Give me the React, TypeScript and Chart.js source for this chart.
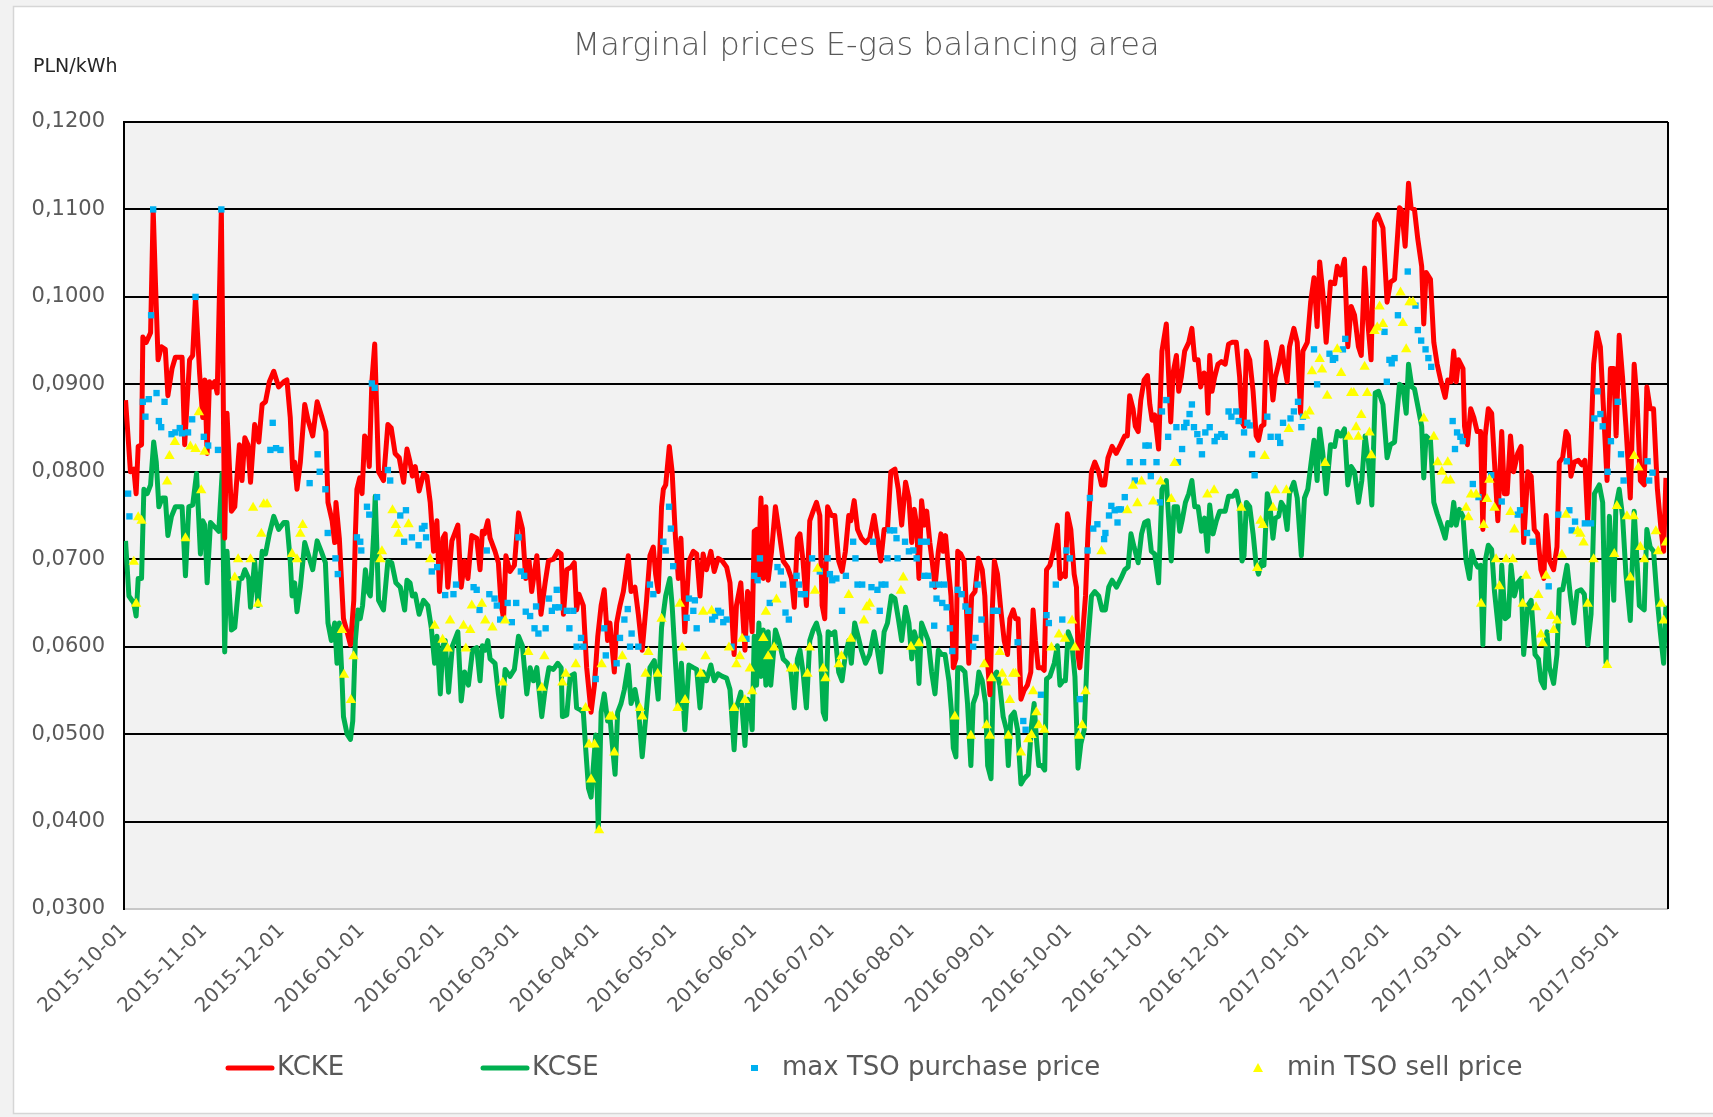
import { useEffect, useRef } from 'react';
import { Chart, registerables } from 'chart.js';

Chart.register(...registerables);

// ---------- data ----------
const startDate = '2015-10-01';
const tickLabels = [
  '2015-10-01', '2015-11-01', '2015-12-01', '2016-01-01', '2016-02-01', '2016-03-01', '2016-04-01',
  '2016-05-01', '2016-06-01', '2016-07-01', '2016-08-01', '2016-09-01', '2016-10-01', '2016-11-01',
  '2016-12-01', '2017-01-01', '2017-02-01', '2017-03-01', '2017-04-01', '2017-05-01',
];
const lastDay = 598; // days after startDate shown on the axis (about 2017-05-21)
const yMin = 0.03;
const yMax = 0.12;
const yStep = 0.01;
const titleText = 'Marginal prices E-gas balancing area';
const unitText = 'PLN/kWh';
const seriesNames = ['KCKE', 'KCSE', 'max TSO purchase price', 'min TSO sell price'];

// [day after startDate, PLN/kWh]
const kcke: [number, number][] = [
  [0.6, 0.0882], [2.5, 0.08], [3.8, 0.0803], [4.7, 0.0775], [5.5, 0.0829], [6.8, 0.0831], [7.3, 0.0954], [8.6, 0.0948],
  [10.3, 0.0959], [11.3, 0.11], [12.2, 0.1015], [13.2, 0.0928], [14.5, 0.0943], [16, 0.094], [17, 0.0887], [18.6, 0.0918],
  [19.9, 0.0931], [22.5, 0.0931], [23.5, 0.0831], [24.4, 0.0877], [25.4, 0.0928], [26.6, 0.0933], [27.7, 0.1], [29.3, 0.0912],
  [30.5, 0.0862], [31.3, 0.0905], [32.2, 0.0821], [33.1, 0.0903], [34.1, 0.0897], [35.1, 0.0903], [36.1, 0.089], [37.7, 0.11],
  [39, 0.0724], [39.9, 0.0867], [41.6, 0.0755], [42.9, 0.076], [44.7, 0.0831], [45.7, 0.079], [46.8, 0.0839], [48, 0.0831],
  [49, 0.0788], [50.6, 0.0854], [52.2, 0.0834], [53.5, 0.0877], [54.8, 0.088], [56.3, 0.0903], [58, 0.0915], [59.9, 0.0897],
  [61.9, 0.0903], [63.1, 0.0905], [64.4, 0.0862], [65.3, 0.0803], [66.1, 0.0811], [67, 0.078], [68.3, 0.0811], [70, 0.0877],
  [71.3, 0.0859], [73.1, 0.0841], [74.8, 0.088], [76.7, 0.0862], [78.2, 0.0846], [79, 0.0765], [80.6, 0.0744], [81.6, 0.0719],
  [82.1, 0.0765], [83.4, 0.0724], [85, 0.0632], [86.4, 0.0617], [87.7, 0.0602], [89, 0.0653], [89.6, 0.0727], [90.2, 0.078],
  [91.3, 0.0793], [92.2, 0.0775], [93.2, 0.0841], [94.1, 0.0836], [95, 0.0806], [96, 0.0903], [97.1, 0.0946],
  [98.6, 0.08], [100.5, 0.079], [102.2, 0.0854], [103.5, 0.085], [105, 0.0821], [106.6, 0.0816], [108.3, 0.0788], [109.6, 0.0826],
  [110.8, 0.0811], [111.7, 0.0795], [112.8, 0.0806], [114.3, 0.0778], [116, 0.0798], [117.3, 0.0795], [118.6, 0.0765], [119.9, 0.0709],
  [121.2, 0.0744], [122.2, 0.0663], [123.5, 0.0724], [124.4, 0.0729], [125.4, 0.0668], [127, 0.0721], [129.3, 0.0739], [130.6, 0.0668],
  [131.9, 0.0698], [133.2, 0.0678], [134.7, 0.0727], [136.6, 0.0724], [137.9, 0.0688], [138.8, 0.0732], [139.6, 0.0729], [140.9, 0.0744],
  [141.8, 0.0724], [143.7, 0.0709], [145, 0.0696], [146, 0.065], [147, 0.0632], [147.9, 0.0704], [149.5, 0.0686], [151.2, 0.0693],
  [152.8, 0.0753], [154.3, 0.0735], [155.6, 0.0678], [156.9, 0.0698], [157.9, 0.0663], [159.9, 0.0704], [161.5, 0.0637], [163.1, 0.0673],
  [164.4, 0.0698], [166.3, 0.07], [168, 0.0709], [169.3, 0.0706], [170.2, 0.0637], [171.5, 0.0688], [173.2, 0.0691], [174.4, 0.0696],
  [175.3, 0.0642], [176.2, 0.066], [177.9, 0.0647], [179.2, 0.0576], [180.9, 0.0525], [182.2, 0.0556], [183.5, 0.0612], [184.8, 0.0647],
  [186, 0.0665], [187.3, 0.0607], [188.2, 0.0627], [189.9, 0.0571], [190.8, 0.0627], [192.1, 0.0647], [193.4, 0.0663], [195.3, 0.0704],
  [196.4, 0.0663],
  [197.9, 0.0668], [199.2, 0.0637], [200.7, 0.0596], [202.4, 0.0653], [203.7, 0.0704], [205, 0.0714], [205.9, 0.0683], [206.9, 0.0663],
  [208.2, 0.076], [208.9, 0.078], [209.8, 0.0785], [211.2, 0.0829], [212.3, 0.08], [213.6, 0.0724], [214.7, 0.0678], [215.7, 0.0724],
  [217.2, 0.0617], [218.8, 0.0698], [220.5, 0.0709], [221.8, 0.0706], [223.1, 0.0658], [224.3, 0.0706], [225.6, 0.0688], [227.3, 0.0709],
  [228.6, 0.0686], [230.1, 0.0701], [231.7, 0.0698], [233.4, 0.0691], [234.7, 0.0673], [236.3, 0.0591], [237.2, 0.0647], [238.9, 0.0673],
  [240.5, 0.0596], [241.5, 0.0663], [242.4, 0.0658], [243.3, 0.0617], [244.1, 0.0732], [245, 0.0734], [245.6, 0.0678], [246.7, 0.077],
  [247.6, 0.0678], [248.6, 0.076], [249.5, 0.0676], [250.8, 0.0709], [252.3, 0.076], [253.6, 0.0734], [255.3, 0.0698], [257, 0.0691],
  [258.5, 0.0678], [259.6, 0.0645], [260.8, 0.0724], [261.8, 0.0729], [263, 0.0698], [264.3, 0.0647], [265.6, 0.0744], [266.9, 0.0755],
  [268.2, 0.0765], [269.5, 0.075], [270.4, 0.0647], [271.4, 0.0632], [272.5, 0.076], [274, 0.075], [275.3, 0.075], [276.8, 0.0698],
  [278.1, 0.0686], [279.4, 0.0709], [280.7, 0.075], [281.5, 0.0744], [282.8, 0.0767], [284.1, 0.0734], [285.6, 0.0724], [287.2, 0.0719],
  [288.8, 0.0724], [290.5, 0.075], [291.8, 0.0724], [293.1, 0.0698], [294.4, 0.0734], [295.7, 0.0734], [297, 0.08],
  [298.6, 0.0803], [299.9, 0.078], [301.2, 0.0739], [302.7, 0.0788], [304, 0.077], [305.1, 0.0719], [306.1, 0.0757], [307, 0.0739],
  [307.9, 0.0678], [308.9, 0.0767], [310, 0.0739], [310.9, 0.0755], [312.1, 0.0719], [313, 0.0698], [314.1, 0.0668], [315.4, 0.0709],
  [316.4, 0.0729], [317.3, 0.0709], [318.2, 0.0727], [319.2, 0.0693], [320.3, 0.0658], [321.2, 0.0576], [322.2, 0.0586], [322.9, 0.0709],
  [324.1, 0.0706], [325.4, 0.0698], [326.3, 0.0642], [327.2, 0.0581], [328.3, 0.0658], [329.6, 0.0663], [330.9, 0.0701], [332.4, 0.0688],
  [333.4, 0.0658], [334.5, 0.0581], [335.4, 0.0545], [336.3, 0.0642], [337.1, 0.0698], [338.3, 0.0683], [339.6, 0.0642], [340.9, 0.0607],
  [342.2, 0.0591], [343.1, 0.0632], [344.4, 0.0642], [345.3, 0.0632], [346.3, 0.0632], [347.4, 0.054], [348.6, 0.055], [349.9, 0.0556],
  [351.2, 0.0571], [352.1, 0.0642], [353, 0.0607], [354.1, 0.0576], [355.4, 0.0576], [356.4, 0.0573], [357.3, 0.0688], [358.6, 0.0693],
  [359.9, 0.0709], [361.5, 0.0739], [362.5, 0.0678], [363.7, 0.0683], [364.6, 0.068], [365.4, 0.0752], [366.7, 0.0734], [368, 0.0683],
  [368.9, 0.0668], [369.5, 0.0591], [370.2, 0.0576], [371.1, 0.0607], [372.4, 0.0658], [373.4, 0.0734], [374.7, 0.08], [376, 0.0811],
  [377.5, 0.08], [378.6, 0.0785], [379.8, 0.0785], [381.1, 0.0816], [382.7, 0.0829], [384.3, 0.0821], [386, 0.0831], [387.6, 0.0841],
  [388.6, 0.0841], [389.5, 0.0887], [390.8, 0.0872], [391.7, 0.0852], [392.8, 0.0846], [393.8, 0.0882], [395.1, 0.0905], [396.4, 0.091],
  [397.3, 0.0877], [398.2, 0.0859],
  [399.2, 0.0865], [400.7, 0.0826], [402, 0.0938], [403.7, 0.0969], [405.4, 0.0857], [406.3, 0.0913], [407.6, 0.0933], [408.5, 0.0892],
  [409.5, 0.0908], [410.8, 0.0938], [412.4, 0.0948], [413.6, 0.0964], [414.7, 0.0928], [416, 0.0928], [417, 0.0897], [418.3, 0.0913],
  [419.2, 0.091], [419.8, 0.0867], [420.5, 0.0933], [421.4, 0.0892], [422.4, 0.0908], [423.7, 0.0923], [425, 0.0926], [426.5, 0.0923],
  [427.8, 0.0946], [429.1, 0.0948], [430.8, 0.0948], [432.1, 0.0908], [433, 0.0857], [433.8, 0.0852], [434.7, 0.0938], [436, 0.0928],
  [437.3, 0.0892], [438.5, 0.0841], [439.4, 0.0836], [440.5, 0.0852], [441.5, 0.0854], [442.4, 0.0948], [443.7, 0.0928], [445, 0.0882],
  [445.9, 0.0908], [447.2, 0.0923], [448.5, 0.0943], [449.3, 0.0923], [450.5, 0.0903], [451.4, 0.0943], [453.1, 0.0964], [454.4, 0.0948],
  [455.7, 0.0867], [456.6, 0.0938], [458.3, 0.0948], [459.6, 0.0994], [460.9, 0.1022], [462.1, 0.0966], [463.1, 0.104], [464.3, 0.1005],
  [465.6, 0.0948], [467.3, 0.1017], [468.9, 0.1015], [469.9, 0.1035], [471.2, 0.1025], [472.7, 0.1043], [474, 0.0943], [475.3, 0.0989],
  [476.6, 0.0979], [478.1, 0.0943], [479.2, 0.0933], [480.5, 0.1033], [481.8, 0.0969], [483, 0.0928], [484.3, 0.1086], [485.6, 0.1094],
  [487.6, 0.1079], [489.2, 0.0994], [490.5, 0.1017], [492.1, 0.102], [494, 0.1102], [494.9, 0.1099], [496.2, 0.1058], [497.5, 0.113],
  [498.5, 0.1102],
  [499.8, 0.11], [501.1, 0.1066], [502.6, 0.1035], [503.4, 0.0969], [504.3, 0.1028], [506, 0.102], [507.3, 0.0948], [508.6, 0.0923],
  [510.1, 0.0903], [511.7, 0.0885], [512.7, 0.0905], [514, 0.0903], [515, 0.0938], [516, 0.0903], [516.9, 0.0928], [518.6, 0.0918],
  [519.2, 0.0852], [520.3, 0.0831], [521.6, 0.0872], [522.8, 0.0862], [524.1, 0.0846], [525.4, 0.0846], [526.3, 0.0734], [527.2, 0.0841],
  [528.4, 0.0872], [529.7, 0.0867], [530.8, 0.0811], [532.1, 0.0744], [533.6, 0.0846], [534.6, 0.0775], [535.7, 0.0775], [537, 0.0841],
  [538.2, 0.08], [539.8, 0.0821], [541.1, 0.0829], [542.1, 0.0719], [543.7, 0.08], [545, 0.0795], [546.2, 0.0734], [547.5, 0.0729],
  [548.8, 0.0688], [549.9, 0.0678], [550.8, 0.075], [552.1, 0.0698], [553.7, 0.0688], [555, 0.0714], [555.9, 0.0811], [557.2, 0.0816],
  [558.5, 0.0846], [559.4, 0.0841], [560.4, 0.0795], [561.7, 0.0811], [563.3, 0.0813], [564.6, 0.0808], [565.8, 0.0813], [566.9, 0.0742],
  [567.9, 0.0811], [569.2, 0.0923], [570.5, 0.0959], [571.8, 0.0943], [573.1, 0.0867], [574.4, 0.079], [575.7, 0.0918], [577, 0.0918],
  [577.9, 0.0841], [579.1, 0.0956], [580.4, 0.0908], [581.7, 0.0852], [583.4, 0.077], [584.9, 0.0923], [586, 0.0882], [587.3, 0.079],
  [588.8, 0.0785], [589.8, 0.0897], [591.1, 0.0872], [592.4, 0.0872], [593.9, 0.078], [595.3, 0.0734], [596.3, 0.0709], [597.2, 0.0793],
];

const kcse: [number, number][] = [
  [0.6, 0.0721], [1.9, 0.0658], [3.8, 0.065], [4.7, 0.0635], [5.5, 0.0678], [6.8, 0.0678], [7.7, 0.078], [9, 0.0775],
  [10.3, 0.0785], [11.5, 0.0834], [12.5, 0.0811], [13.5, 0.076], [14.8, 0.077], [16, 0.077], [17, 0.0727], [18.4, 0.0749],
  [19.9, 0.076], [22.5, 0.076], [23.8, 0.0681], [25.1, 0.076], [26.6, 0.0762], [28.1, 0.0798], [29.6, 0.0706], [30.5, 0.0744],
  [31.3, 0.0739], [32.2, 0.0673], [33.5, 0.0742], [35.1, 0.0737], [36.7, 0.0732], [38, 0.0798], [39, 0.0594], [39.9, 0.0709],
  [41.6, 0.0619], [42.9, 0.0622], [44.7, 0.0678], [45.7, 0.0678], [46.8, 0.0688], [48.3, 0.0678], [49, 0.0645], [50.6, 0.0698],
  [51.9, 0.0647], [53.5, 0.0709], [54.8, 0.0706], [56.3, 0.0729], [58, 0.0749], [59.9, 0.0734], [61.9, 0.0742], [63.1, 0.0742],
  [64.4, 0.0698], [65.1, 0.0658], [66.1, 0.0673], [67, 0.064], [68.3, 0.0668], [70, 0.0719], [71.5, 0.0704], [73.1, 0.0688],
  [74.8, 0.0721], [76.4, 0.0709], [78, 0.0696], [79, 0.0627], [80.3, 0.0607], [81.6, 0.0627], [82.5, 0.0581], [83.4, 0.0627],
  [84.4, 0.0566], [85, 0.052], [86.4, 0.05], [87.7, 0.0494], [88.6, 0.0515], [89.6, 0.0607], [90.6, 0.0642], [91.5, 0.0632],
  [92.4, 0.0647], [93.5, 0.0688], [94.5, 0.0663], [95.4, 0.0658], [96.7, 0.0729], [97.3, 0.0772],
  [98.6, 0.0653], [100.5, 0.0642], [102.2, 0.0698], [103.7, 0.0696], [105.3, 0.0673], [107, 0.0668], [108.7, 0.0642], [109.6, 0.0676],
  [110.8, 0.0673], [111.7, 0.0658], [112.8, 0.066], [114.3, 0.0637], [116, 0.0653], [117.7, 0.0647], [119, 0.0622], [120.3, 0.0581],
  [121.2, 0.0612], [122.5, 0.0546], [123.5, 0.0601], [124.4, 0.0607], [125.7, 0.0548], [127.2, 0.0601], [129.3, 0.0617], [130.6, 0.0538],
  [131.9, 0.0571], [133.4, 0.0556], [135, 0.0596], [136.6, 0.0599], [137.9, 0.0561], [138.8, 0.0601], [139.9, 0.0596], [140.9, 0.0607],
  [141.8, 0.0586], [143.7, 0.0581], [145, 0.0546], [146.3, 0.052], [147.6, 0.0574], [149.5, 0.0566], [151.2, 0.0574], [152.8, 0.0612],
  [154.3, 0.0601], [156, 0.0546], [157.3, 0.0576], [158.6, 0.0561], [159.9, 0.0576], [161.8, 0.052], [163.1, 0.0551], [164.6, 0.0576],
  [166.3, 0.0574], [168, 0.0581], [169.3, 0.0576], [169.8, 0.052], [171.5, 0.0522], [172.8, 0.0566], [174.4, 0.0569], [175.3, 0.053],
  [176.6, 0.0528], [177.9, 0.0525], [178.8, 0.0484], [179.9, 0.0438], [180.9, 0.0428], [181.8, 0.0464], [182.7, 0.0499], [183.7, 0.039],
  [184.8, 0.0525], [186, 0.0546], [187.3, 0.0515], [188.2, 0.052], [189.1, 0.0489], [190.2, 0.0454], [191.2, 0.0525], [192.5, 0.0535],
  [193.8, 0.0551], [195.3, 0.0579], [196.4, 0.0535],
  [197.9, 0.0551], [199.2, 0.053], [200.7, 0.0474], [202.4, 0.053], [203.7, 0.0576], [205.4, 0.0584], [206.9, 0.054], [208.2, 0.0622],
  [209.8, 0.0658], [211.4, 0.0678], [212.3, 0.0647], [213.6, 0.0581], [214.7, 0.053], [215.9, 0.0581], [217.2, 0.0505], [218.8, 0.0579],
  [220.5, 0.0576], [221.8, 0.0574], [223.1, 0.053], [224.3, 0.0571], [225.6, 0.0561], [227.3, 0.0579], [228.6, 0.0561], [230.1, 0.0569],
  [231.7, 0.0566], [233.4, 0.0564], [234.7, 0.0551], [236.3, 0.0482], [237.2, 0.053], [238.9, 0.0548], [240.5, 0.0487], [241.5, 0.054],
  [242.4, 0.0535], [243.3, 0.0505], [244.1, 0.0612], [245, 0.0556], [245.9, 0.0627], [246.7, 0.0566], [247.6, 0.0619], [248.6, 0.0556],
  [249.5, 0.0617], [250.5, 0.0556], [252.3, 0.0619], [253.6, 0.0607], [255.3, 0.0586], [257, 0.0581], [258.3, 0.0571], [259.6, 0.053],
  [260.8, 0.0586], [261.8, 0.0596], [263, 0.0571], [264.3, 0.053], [265.6, 0.0607], [266.9, 0.0619], [268.2, 0.0627], [269.5, 0.0612],
  [270.8, 0.0525], [271.7, 0.0517], [272.7, 0.0617], [274, 0.0614], [275.3, 0.0617], [276.8, 0.0571], [278.1, 0.0561], [279.4, 0.0591],
  [280.7, 0.0607], [281.7, 0.0581], [283, 0.0627], [284.3, 0.0612], [285.6, 0.0596], [287.2, 0.0581], [288.8, 0.0591], [290.5, 0.0617],
  [291.8, 0.0596], [293.1, 0.0571], [294.4, 0.0617], [295.7, 0.0627], [297.2, 0.0658],
  [298.6, 0.0655], [299.9, 0.0632], [301.2, 0.0607], [302.7, 0.0645], [304, 0.0627], [305.1, 0.0586], [306.1, 0.0617], [307, 0.0607],
  [307.9, 0.0558], [308.9, 0.0627], [310.2, 0.0617], [311.5, 0.0607], [312.8, 0.0571], [314.1, 0.0546], [315.4, 0.0596], [316.7, 0.0591],
  [318, 0.0591], [319.5, 0.0561], [320.5, 0.0525], [321.2, 0.0484], [322.2, 0.0474], [322.9, 0.0576], [324.1, 0.0576], [325.7, 0.0571],
  [326.7, 0.0535], [328, 0.0464], [328.9, 0.0535], [330.2, 0.0546], [331.1, 0.0571], [332.4, 0.0561], [333.7, 0.0535], [334.5, 0.0464],
  [335.8, 0.0449], [336.7, 0.0566], [338, 0.0571], [339.2, 0.0556], [340.5, 0.052], [341.8, 0.0505], [342.5, 0.0464], [343.5, 0.052],
  [344.8, 0.0525], [346.1, 0.0505], [347.4, 0.0443], [348.6, 0.0449], [350.2, 0.0454], [351.5, 0.051], [352.5, 0.0535], [353.4, 0.0494],
  [354.3, 0.0464], [355.4, 0.0464], [356.6, 0.0459], [357.3, 0.0563], [358.6, 0.0566], [360.3, 0.0581], [361.5, 0.0601], [362.5, 0.0556],
  [363.7, 0.0561], [364.6, 0.0561], [365.7, 0.0617], [367, 0.0607], [368.3, 0.0566], [368.9, 0.0515], [369.5, 0.0461], [370.6, 0.0489],
  [371.9, 0.0505], [373.2, 0.0601], [374.7, 0.0658], [376, 0.0663], [377.5, 0.0658], [378.8, 0.0642], [380.1, 0.0642], [381.4, 0.0668],
  [382.7, 0.0676], [384.4, 0.0668], [386.1, 0.0678], [387.6, 0.0688], [388.9, 0.0691], [390, 0.0729], [391.2, 0.0714], [392.8, 0.0696],
  [394.1, 0.0729], [395.3, 0.0742], [396.6, 0.0744], [397.9, 0.0709],
  [399.2, 0.0706], [400.7, 0.0673], [402, 0.078], [403.7, 0.079], [405.6, 0.0698], [406.7, 0.076], [408, 0.076], [408.9, 0.0732],
  [409.8, 0.0744], [411.1, 0.0765], [412.4, 0.0775], [413.6, 0.079], [414.7, 0.076], [416, 0.076], [417.3, 0.0732], [418.5, 0.0747],
  [419.6, 0.0709], [420.5, 0.0762], [421.8, 0.0729], [423.1, 0.0744], [424.4, 0.0755], [426.5, 0.0755], [427.8, 0.0772], [429.5, 0.0772],
  [430.8, 0.0778], [432.1, 0.076], [433, 0.0698], [433.8, 0.0704], [434.7, 0.0765], [436, 0.076], [437.3, 0.0729], [438.5, 0.0693],
  [439.4, 0.0683], [440.7, 0.0698], [441.5, 0.0693], [442.8, 0.0775], [443.7, 0.0765], [445, 0.0724], [445.9, 0.0747], [447.2, 0.0749],
  [448.2, 0.0765], [449.3, 0.076], [450.5, 0.0734], [451.4, 0.0775], [453.1, 0.0788], [454.4, 0.077], [456, 0.0704], [457.2, 0.077],
  [458.5, 0.078], [459.8, 0.0811], [460.9, 0.0836], [462.1, 0.079], [463.1, 0.0849], [464.3, 0.0821], [465.6, 0.0775], [467.3, 0.0831],
  [468.9, 0.0829], [469.9, 0.0846], [471.2, 0.0841], [472.7, 0.0849], [474, 0.0785], [475.3, 0.0806], [476.6, 0.08], [478.1, 0.0765],
  [479.4, 0.079], [480.7, 0.0841], [482, 0.0811], [483.3, 0.0762], [484.6, 0.089], [485.9, 0.0892], [487.6, 0.0877], [489.2, 0.0816],
  [490.5, 0.0831], [492.1, 0.0834], [494, 0.09], [495.3, 0.0897], [496.6, 0.0867], [497.5, 0.0923], [498.8, 0.0897],
  [499.8, 0.0895], [501.3, 0.0872], [502.6, 0.0852], [503.4, 0.0793], [504.3, 0.0841], [506, 0.0836], [507.3, 0.0765], [508.6, 0.0752],
  [510.1, 0.0739], [511.7, 0.0724], [512.7, 0.0742], [514, 0.0739], [515, 0.0765], [516, 0.0739], [517.2, 0.0757], [518.6, 0.0749],
  [519.8, 0.0698], [521.1, 0.0678], [522, 0.0709], [523, 0.0698], [524.3, 0.0691], [525.4, 0.0693], [526.3, 0.0602], [527.2, 0.0698],
  [528.4, 0.0716], [529.7, 0.0711], [530.8, 0.0663], [532.7, 0.0609], [533.6, 0.0693], [534.9, 0.0632], [536.2, 0.0635], [537.2, 0.0693],
  [538.5, 0.0658], [539.8, 0.0673], [541.1, 0.0678], [542.1, 0.0591], [543.7, 0.0647], [545, 0.0653], [546.5, 0.0591], [547.8, 0.0586],
  [548.8, 0.0561], [550.1, 0.0553], [551.1, 0.0617], [552.1, 0.0576], [553.7, 0.0558], [555, 0.0591], [555.9, 0.0665], [557.2, 0.0665],
  [558.9, 0.0693], [560.2, 0.0658], [561.5, 0.0627], [562.8, 0.0663], [564.3, 0.0665], [565.6, 0.066], [566.9, 0.0602], [568.2, 0.0637],
  [569.5, 0.0775], [571.4, 0.0785], [572.7, 0.0765], [574, 0.0581], [575.3, 0.0749], [577, 0.0653], [577.8, 0.076], [579.1, 0.078],
  [580.4, 0.0749], [581.7, 0.0683], [583.4, 0.063], [584.9, 0.0755], [586, 0.0698], [586.9, 0.0647], [588.8, 0.0642], [589.8, 0.0734],
  [591.1, 0.0714], [592.4, 0.0709], [593.7, 0.0658], [595, 0.0617], [596.3, 0.0581], [597.2, 0.0647],
];

const maxPurchase: [number, number][] = [
  [1.6, 0.0775], [2.1, 0.0749], [7.3, 0.088], [8.3, 0.0863], [9.6, 0.0883], [10.5, 0.0979], [11.3, 0.11], [12.6, 0.089],
  [13.5, 0.0858], [14.4, 0.0851], [15.7, 0.088], [18.4, 0.0843], [19.9, 0.0845], [21.6, 0.085], [22.5, 0.0844], [24.8, 0.0845],
  [26.4, 0.086], [27.7, 0.1], [30.9, 0.084], [32.6, 0.083], [36.4, 0.0825], [37.7, 0.11], [56.7, 0.0825], [57.6, 0.0856],
  [58.9, 0.0827], [60.6, 0.0825], [71.9, 0.0787], [75, 0.082], [75.8, 0.08], [78, 0.078], [78.9, 0.073], [81.9, 0.0701],
  [82.8, 0.0683], [90.2, 0.0725], [91.5, 0.072], [91.9, 0.071], [94.1, 0.076], [95, 0.0751], [96, 0.0901], [97.1, 0.0896],
  [98, 0.0771], [102.2, 0.0802], [103.1, 0.079], [107, 0.075], [108.5, 0.072], [109.2, 0.0756], [111.5, 0.0725], [114.1, 0.0716],
  [115.4, 0.0735], [116.4, 0.0738], [117, 0.0725], [119.2, 0.0686], [121.3, 0.0691], [124.4, 0.0659], [127.6, 0.066], [128.6, 0.0671],
  [135.4, 0.0668], [136.6, 0.0665], [137.7, 0.0642], [140.5, 0.071], [141.5, 0.066], [143.5, 0.0655], [144.4, 0.0647], [145.7, 0.0631],
  [148.6, 0.065], [150.2, 0.0628], [151.9, 0.065], [152.8, 0.0725], [153.7, 0.0686], [155, 0.0681], [155.6, 0.064], [157.3, 0.0635],
  [159, 0.0621], [159.6, 0.0646], [160.5, 0.0615], [163.3, 0.0621], [164.6, 0.0655], [165.7, 0.0641], [167, 0.0645], [167.6, 0.0665],
  [168.5, 0.0645], [171.5, 0.0641], [172.5, 0.0621], [174, 0.0641], [175.3, 0.06], [177, 0.061], [177.9, 0.06], [182.7, 0.0563],
  [186, 0.0621], [186.6, 0.059], [190.8, 0.0581], [192.1, 0.061], [193.8, 0.0631], [195.1, 0.0643], [196, 0.06], [196.6, 0.0615],
  [199.2, 0.06], [203.7, 0.0671], [205, 0.066], [208.9, 0.072], [209.8, 0.071], [211.1, 0.076], [211.8, 0.0735], [212.7, 0.0692],
  [217.9, 0.0633], [218.8, 0.0655], [220.5, 0.0641], [221.1, 0.0653], [221.8, 0.0621], [227.8, 0.0631], [228.9, 0.0635], [230.1, 0.0641],
  [231.2, 0.0639], [232.1, 0.0628], [233.4, 0.0631], [235.3, 0.06], [241.1, 0.0609], [244.1, 0.0681], [245.4, 0.0676], [246.3, 0.0701],
  [250.1, 0.065], [253.1, 0.0691], [254.4, 0.0686], [255.3, 0.0671], [256.2, 0.0639], [257.5, 0.0631], [260.5, 0.0681], [261.4, 0.0671],
  [262.2, 0.066], [263.7, 0.066], [266.5, 0.0701], [269.5, 0.0686], [272.5, 0.0701], [273.4, 0.0683], [274.3, 0.0676], [275.9, 0.0678],
  [278.1, 0.0641], [279.6, 0.0681], [282.4, 0.072], [283.3, 0.0701], [284.1, 0.0671], [285.9, 0.0671], [289.5, 0.0668], [290.1, 0.072],
  [291.8, 0.0665], [292.7, 0.0641], [293.4, 0.0671], [294.9, 0.0671], [295.7, 0.0701], [296.6, 0.0733], [298.3, 0.0733], [299.2, 0.0724],
  [299.6, 0.0701], [302.5, 0.072], [304, 0.0709], [305.7, 0.071], [307, 0.0701], [308.7, 0.072], [310, 0.0681], [310.9, 0.072],
  [311.5, 0.0681], [313.1, 0.0671], [313.8, 0.0624], [314.7, 0.0655], [315.6, 0.0671], [316.9, 0.065], [317.7, 0.0671], [318.6, 0.0645],
  [319.9, 0.0621], [320.8, 0.0595], [322.9, 0.0665], [324.4, 0.066], [325.9, 0.0646], [327, 0.0641], [328.9, 0.06], [329.8, 0.061],
  [330.6, 0.0671], [332.1, 0.0631], [336.7, 0.0641], [338.3, 0.0641], [346.1, 0.0605], [348.3, 0.0515], [349.2, 0.0505], [355.1, 0.0545],
  [357.3, 0.0636], [358.2, 0.0627], [360.9, 0.0671], [363.4, 0.0631], [365, 0.071], [366.3, 0.0701], [370.2, 0.054], [373.2, 0.071],
  [374.1, 0.077], [375.4, 0.0735], [377, 0.074], [379.6, 0.0723], [380.1, 0.073], [381.5, 0.075], [382.4, 0.0761], [383.7, 0.0756],
  [384.8, 0.0742], [385.3, 0.0757], [386.1, 0.0757], [387.6, 0.0771], [389.5, 0.0811], [391.5, 0.079], [394.7, 0.0811], [395.6, 0.083],
  [396.9, 0.083], [397.7, 0.0795], [399.9, 0.0811], [401.2, 0.0765], [402, 0.0869], [403.7, 0.0882], [404.4, 0.084], [407.6, 0.0851],
  [408.2, 0.0811], [409.8, 0.0826], [410.6, 0.0851], [411.5, 0.0856], [412.7, 0.0866], [413.6, 0.0877], [414.4, 0.0851], [415.7, 0.0843],
  [416.6, 0.0835], [417.5, 0.082], [418.8, 0.0845], [420.5, 0.0851], [422.4, 0.0835], [423.4, 0.084], [425, 0.0843], [426.3, 0.084],
  [427.8, 0.0869], [428.9, 0.0863], [430.8, 0.0869], [431.7, 0.0858], [433.8, 0.0845], [435.1, 0.0856], [436, 0.0853], [436.9, 0.082],
  [437.9, 0.0796], [442.8, 0.0863], [444.1, 0.084], [446.9, 0.084], [447.8, 0.0833], [448.9, 0.0856], [451.8, 0.0861], [453.1, 0.0869],
  [454.7, 0.088], [456, 0.0851], [456.6, 0.0863], [460.9, 0.094], [462.1, 0.09], [466.9, 0.0935], [468.2, 0.0928], [469.1, 0.093],
  [472.1, 0.094], [473, 0.0952], [488.2, 0.096], [489.1, 0.0903], [490.1, 0.0928], [491, 0.0924], [492.1, 0.093], [493.4, 0.0979],
  [497.2, 0.1029], [500.2, 0.099], [501.1, 0.0962], [502.4, 0.095], [504.1, 0.094], [505.2, 0.093], [506.3, 0.092], [514.6, 0.0858],
  [515.5, 0.0826], [516.3, 0.0845], [517.6, 0.084], [518.5, 0.0835], [522.4, 0.0786], [524.6, 0.0771], [529.5, 0.0796], [533.6, 0.0766],
  [539.8, 0.0751], [540.7, 0.0756], [543.4, 0.073], [545.6, 0.072], [551.8, 0.0669], [555.5, 0.0751], [558.8, 0.0812], [559.8, 0.0756],
  [560.7, 0.0733], [562, 0.0743], [565.8, 0.0741], [568.2, 0.0741], [569.5, 0.0861], [570.7, 0.0892], [571.8, 0.0866], [572.7, 0.0852],
  [574.6, 0.08], [575.9, 0.0835], [578.5, 0.088], [579.8, 0.082], [580.8, 0.079], [590.1, 0.0812], [590.7, 0.079], [592, 0.0799],
];

const minSell: [number, number][] = [
  [3.8, 0.0697], [4.7, 0.0649], [5.5, 0.0748], [6.8, 0.0744], [16.7, 0.0789], [17.6, 0.0818], [19.7, 0.0834], [23.8, 0.0724],
  [25.7, 0.0829], [27.7, 0.0826], [29, 0.0868], [29.9, 0.0779], [31.2, 0.0823], [42.9, 0.0679], [44.2, 0.07], [49, 0.07],
  [50, 0.0759], [51.9, 0.0649], [53.2, 0.0729], [54.1, 0.0763], [55.4, 0.0763], [65.1, 0.0706], [67, 0.07], [68.3, 0.0729],
  [69.2, 0.0739], [84.4, 0.0619], [85.2, 0.0568], [87.9, 0.0539], [88.9, 0.0589], [99.3, 0.07], [99.9, 0.0709], [104, 0.0756],
  [105.3, 0.0739], [106.3, 0.0729], [110.2, 0.074], [118.6, 0.07], [120.3, 0.0624], [123.4, 0.0608], [125.4, 0.0598], [126.3, 0.063],
  [131.5, 0.0624], [132.4, 0.0598], [134.1, 0.0619], [134.7, 0.0647], [138.6, 0.0649], [139.9, 0.063], [142.7, 0.0622], [146.7, 0.0559],
  [147.6, 0.063], [156.6, 0.0594], [161.8, 0.0553], [162.8, 0.0589], [169.8, 0.0559], [171.1, 0.0569], [175, 0.058], [178.8, 0.053],
  [180.1, 0.0488], [180.9, 0.0448], [182.2, 0.0488], [184, 0.039], [185, 0.058], [188.2, 0.052], [189.1, 0.052], [189.9, 0.0479],
  [193, 0.0589], [199.8, 0.053], [200.7, 0.052], [202, 0.0569], [203.1, 0.0594], [206.7, 0.0569], [208.2, 0.0632], [214.4, 0.053],
  [215.3, 0.0649], [216.2, 0.0599], [217.3, 0.0539], [223.4, 0.0569], [224.3, 0.064], [225.2, 0.0589], [227.6, 0.0641], [234.3, 0.0599],
  [236.3, 0.053], [237.2, 0.058], [238.5, 0.0589], [239.4, 0.0609], [240.5, 0.0539], [242.4, 0.0575], [243.3, 0.0549], [247.6, 0.061],
  [248.6, 0.064], [249.5, 0.0589], [251.8, 0.0599], [252.7, 0.0654], [258.3, 0.0575], [259.6, 0.0575], [264.7, 0.0569], [265.6, 0.0599],
  [267.6, 0.0664], [268.6, 0.0689], [270.8, 0.0575], [271.7, 0.0564], [276.8, 0.058], [277.9, 0.0589], [280.7, 0.0659], [281.5, 0.0609],
  [286.6, 0.063], [287.6, 0.0645], [288.8, 0.0649], [300.9, 0.0664], [301.8, 0.0679], [304.8, 0.06], [307.9, 0.0604], [321.8, 0.052],
  [328, 0.0498], [333.2, 0.058], [334.1, 0.051], [335.4, 0.0498], [336, 0.0564], [339.2, 0.0594], [340.1, 0.0569], [341.4, 0.0559],
  [342.5, 0.0498], [343.1, 0.0539], [344.4, 0.0569], [345.3, 0.0569], [347.4, 0.0479], [350.2, 0.0494], [351.5, 0.0499], [352.1, 0.0549],
  [353.4, 0.0525], [354.3, 0.051], [356.4, 0.0505], [359.2, 0.0599], [362.1, 0.0614], [364.4, 0.0609], [367.2, 0.063], [368.3, 0.0599],
  [369.8, 0.0498], [371.1, 0.051], [372.4, 0.0549], [378.6, 0.0709], [388.6, 0.0756], [390.8, 0.0784], [392.5, 0.0764], [394.1, 0.0789],
  [398.6, 0.0766], [401.5, 0.0789], [405.6, 0.0769], [406.9, 0.081], [419.6, 0.0774], [422.2, 0.0779], [432.7, 0.0759], [438.9, 0.069],
  [440.2, 0.0744], [441.1, 0.0739], [441.8, 0.0818], [445, 0.0759], [445.9, 0.0779], [450.2, 0.0779], [451.1, 0.0849], [457.5, 0.0864],
  [459.2, 0.0869], [460.1, 0.0915], [463.1, 0.0929], [464, 0.0917], [465.2, 0.081], [466, 0.0887], [469.9, 0.094], [471.4, 0.0913],
  [474.3, 0.084], [475.3, 0.089], [476.3, 0.089], [477.2, 0.0851], [478.1, 0.084], [479.2, 0.0865], [480.5, 0.092], [481.5, 0.089],
  [482.4, 0.0845], [483.1, 0.0819], [484.3, 0.0961], [485.4, 0.0965], [486.3, 0.0989], [487.6, 0.0969], [494.4, 0.1005], [495.3, 0.097],
  [496.6, 0.094], [497.9, 0.0994], [499.2, 0.0994], [503.4, 0.0861], [507.3, 0.084], [508.8, 0.0811], [510.4, 0.08], [512.1, 0.079],
  [512.7, 0.0811], [513.7, 0.079], [519.8, 0.0759], [520.7, 0.0748], [521.7, 0.0774], [523.7, 0.0774], [525.6, 0.0649], [526.6, 0.0739],
  [527.9, 0.0769], [528.8, 0.0791], [530.8, 0.0759], [531.4, 0.07], [532.7, 0.0669], [535.3, 0.07], [537, 0.0754], [537.9, 0.07],
  [538.5, 0.0734], [541.7, 0.0649], [543, 0.0681], [546.9, 0.0645], [547.8, 0.0659], [548.8, 0.0614], [549.5, 0.0604], [550.8, 0.0681],
  [552.7, 0.0635], [553.7, 0.0619], [555, 0.063], [556.9, 0.0705], [558.5, 0.0751], [563, 0.0732], [564.1, 0.0729], [565.3, 0.0719],
  [566.9, 0.0649], [569.2, 0.07], [574.4, 0.0579], [577.2, 0.0706], [578.2, 0.0761], [582.1, 0.0749], [583.4, 0.0679], [584.7, 0.0749],
  [584.9, 0.0818], [586.5, 0.0805], [587.3, 0.0714], [588.8, 0.07], [593.3, 0.0732], [594.2, 0.0709], [595.3, 0.0649], [596.3, 0.063],
  [597.2, 0.0719],
];

// ---------- styles ----------
const RED = '#ff0000';
const GREEN = '#00b050';
const BLUE = '#00b0f0';
const YELLOW = '#ffff00';
const TEXT_GRAY = '#595959';
const FONT = "'DejaVu Sans', sans-serif";

const dayOf = (d: string) => Math.round((Date.parse(d) - Date.parse(startDate)) / 86400000);
const tickDays = tickLabels.map(dayOf);
const toXY = (arr: [number, number][]) => arr.map(([x, y]) => ({ x, y }));

const decorPlugin = {
  id: 'decor',
  beforeDraw(chart: any) {
    const { ctx, chartArea: a, width, height } = chart;
    ctx.save();
    ctx.fillStyle = '#f2f2f2';
    ctx.fillRect(0, 0, width, height);
    ctx.fillStyle = '#ffffff';
    ctx.fillRect(13, 6, width - 13, height - 9);
    ctx.strokeStyle = '#d6d6d6';
    ctx.lineWidth = 1.5;
    ctx.beginPath();
    ctx.moveTo(width, 6.5); ctx.lineTo(13.5, 6.5); ctx.lineTo(13.5, height - 3.5); ctx.lineTo(width, height - 3.5);
    ctx.stroke();
    ctx.fillStyle = '#f2f2f2';
    ctx.fillRect(a.left, a.top, a.right - a.left, a.bottom - a.top);
    ctx.restore();
  },
  afterDraw(chart: any) {
    const { ctx, chartArea: a } = chart;
    ctx.save();
    // right border of the plot area
    ctx.strokeStyle = '#000000';
    ctx.lineWidth = 2;
    ctx.beginPath();
    ctx.moveTo(a.right, a.top);
    ctx.lineTo(a.right, a.bottom);
    ctx.stroke();

    // title
    ctx.fillStyle = TEXT_GRAY;
    ctx.font = `300 32px ${FONT}`;
    ctx.textAlign = 'center';
    ctx.textBaseline = 'middle';
    ctx.fillText(titleText, 866, 47);

    // unit label
    ctx.fillStyle = '#262626';
    ctx.font = `19px ${FONT}`;
    ctx.textAlign = 'left';
    ctx.fillText(unitText, 33, 67);

    // legend
    const ly = 1068;
    ctx.font = `26px ${FONT}`;
    ctx.lineCap = 'round';
    ctx.lineWidth = 5;
    ctx.strokeStyle = RED;
    ctx.beginPath(); ctx.moveTo(228, ly); ctx.lineTo(272, ly); ctx.stroke();
    ctx.strokeStyle = GREEN;
    ctx.beginPath(); ctx.moveTo(483, ly); ctx.lineTo(527, ly); ctx.stroke();
    ctx.fillStyle = BLUE;
    ctx.fillRect(751, ly - 3, 7, 6);
    ctx.fillStyle = YELLOW;
    ctx.beginPath(); ctx.moveTo(1258, ly - 5); ctx.lineTo(1263, ly + 4); ctx.lineTo(1253, ly + 4); ctx.closePath(); ctx.fill();
    ctx.fillStyle = TEXT_GRAY;
    ctx.fillText(seriesNames[0], 277, ly);
    ctx.fillText(seriesNames[1], 532, ly);
    ctx.fillText(seriesNames[2], 782, ly);
    ctx.fillText(seriesNames[3], 1287, ly);
    ctx.restore();
  },
};

export default function App() {
  const ref = useRef<HTMLCanvasElement | null>(null);

  useEffect(() => {
    document.body.style.margin = '0';
    document.body.style.overflow = 'hidden';
    const canvas = ref.current;
    if (!canvas) return;
    const chart = new Chart(canvas, {
      type: 'line',
      data: {
        datasets: [
          {
            label: seriesNames[3], data: toXY(minSell), showLine: false, pointStyle: 'triangle',
            pointRadius: 6, pointBackgroundColor: YELLOW, pointBorderWidth: 0, borderColor: YELLOW, order: 0,
          },
          {
            label: seriesNames[2], data: toXY(maxPurchase), showLine: false, pointStyle: 'rect',
            pointRadius: 4.5, pointBackgroundColor: BLUE, pointBorderWidth: 0, borderColor: BLUE, order: 1,
          },
          {
            label: seriesNames[0], data: toXY(kcke), borderColor: RED, borderWidth: 5, pointRadius: 0,
            tension: 0, borderJoinStyle: 'round', order: 2,
          },
          {
            label: seriesNames[1], data: toXY(kcse), borderColor: GREEN, borderWidth: 5, pointRadius: 0,
            tension: 0, borderJoinStyle: 'round', order: 3,
          },
        ],
      },
      options: {
        responsive: false,
        animation: false,
        events: [],
        layout: { padding: { top: 122, right: 45, bottom: 0, left: 0 } },
        plugins: { legend: { display: false }, tooltip: { enabled: false }, title: { display: false } },
        scales: {
          x: {
            type: 'linear',
            min: 0,
            max: lastDay,
            grid: { display: false },
            border: { display: false },
            afterBuildTicks: (s: any) => { s.ticks = tickDays.map((v) => ({ value: v })); },
            afterFit: (s: any) => { s.height = 208; },
            ticks: {
              autoSkip: false,
              minRotation: 45,
              maxRotation: 45,
              padding: 2,
              color: TEXT_GRAY,
              font: { family: FONT, size: 20 },
              callback: (_v: any, i: number) => tickLabels[i],
            },
          },
          y: {
            min: yMin,
            max: yMax,
            afterFit: (s: any) => { s.width = 124; },
            ticks: {
              stepSize: yStep,
              padding: 19,
              color: TEXT_GRAY,
              font: { family: FONT, size: 21 },
              callback: (v: any) => Number(v).toFixed(4).replace('.', ','),
            },
            grid: {
              drawTicks: false,
              lineWidth: 2,
              color: (c: any) => (c.tick && c.tick.value < yMin + 0.0005 ? '#c8c8c8' : '#000000'),
            },
            border: { display: true, color: '#000000', width: 2 },
          },
        },
      },
      plugins: [decorPlugin],
    });
    return () => chart.destroy();
  }, []);

  return (
    <div style={{ width: 1713, height: 1117 }}>
      <canvas ref={ref} width={1713} height={1117} style={{ display: 'block' }} />
    </div>
  );
}
